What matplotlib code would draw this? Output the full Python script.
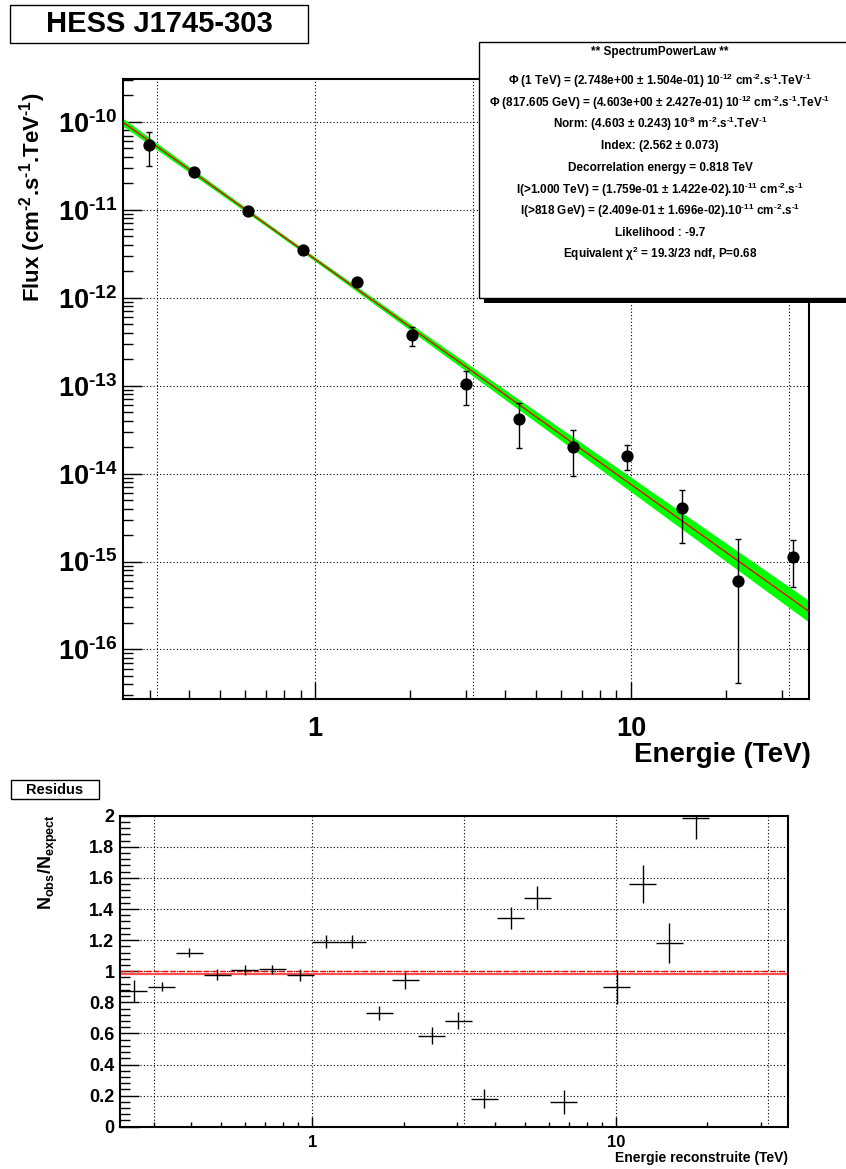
"""HESS J1745-303 spectrum (power-law fit with butterfly) and residuals, ROOT-like look."""
import matplotlib
matplotlib.use("Agg")
import matplotlib.pyplot as plt
import numpy as np
from matplotlib.patches import Rectangle
from matplotlib.ticker import FixedLocator, LogLocator, MultipleLocator, NullFormatter, FuncFormatter

plt.rcParams["font.family"] = ["Liberation Sans", "DejaVu Sans"]
plt.rcParams["font.weight"] = "bold"
plt.rcParams["mathtext.fontset"] = "custom"
plt.rcParams["mathtext.rm"] = "Liberation Sans:bold"
plt.rcParams["mathtext.it"] = "Liberation Sans:bold"
plt.rcParams["mathtext.bf"] = "Liberation Sans:bold"
plt.rcParams["mathtext.default"] = "rm"

# ---- spectral points (TeV, cm-2 s-1 TeV-1) ----
E_FLUX = [0.298, 0.414, 0.614, 0.914, 1.361, 2.023, 3.00, 4.43, 6.56, 9.70, 14.55, 21.9, 32.5]
FLUX = [5.43e-11, 2.72e-11, 9.64e-12, 3.47e-12, 1.50e-12, 3.80e-13, 1.045e-13,
        4.18e-14, 2.02e-14, 1.60e-14, 4.03e-15, 6.05e-16, 1.12e-15]
FLUX_UP = [7.76e-11, 2.85e-11, 1.00e-11, 3.62e-12, 1.60e-12, 4.69e-13, 1.48e-13,
           6.41e-14, 3.13e-14, 2.13e-14, 6.56e-15, 1.82e-15, 1.76e-15]
FLUX_LO = [3.18e-11, 2.59e-11, 9.30e-12, 3.32e-12, 1.40e-12, 2.85e-13, 6.03e-14,
           1.95e-14, 9.40e-15, 1.09e-14, 1.64e-15, 4.11e-17, 5.13e-16]

# ---- power-law fit parameters ----
E_DEC = 0.817605          # TeV
PHI_DEC = 4.603e-12
PHI_DEC_ERR = 0.2427e-12
INDEX = 2.562
INDEX_ERR = 0.073

# ---- residuals N_obs / N_expect ----
E_RES = [0.258, 0.319, 0.394, 0.486, 0.600, 0.738, 0.912, 1.109, 1.355, 1.660, 2.023,
         2.472, 3.027, 3.681, 4.508, 5.508, 6.730, 10.05, 12.27, 14.96, 18.28]
RATIO = [0.873, 0.90, 1.119, 0.976, 1.008, 1.012, 0.976, 1.19, 1.19, 0.733, 0.943,
         0.585, 0.682, 0.18, 1.34, 1.473, 0.16, 0.90, 1.561, 1.181, 1.987]
RATIO_ERR = [0.07, 0.03, 0.03, 0.035, 0.03, 0.03, 0.04, 0.04, 0.04, 0.045, 0.055,
             0.055, 0.055, 0.06, 0.07, 0.075, 0.077, 0.11, 0.12, 0.13, 0.14]
BIN_HALF_DEX = 0.0445
REF_LINE = 1.0
FIT_LINE = 0.982

HY = "\u2010"  # short hyphen for exponents (mathtext would turn '-' into a long minus)
STATS = [
    "** SpectrumPowerLaw **",
    rf"Φ (1 TeV) = (2.748e+00 ± 1.504e-01) 10$^{{{HY}12}}$ cm$^{{{HY}2}}$.s$^{{{HY}1}}$.TeV$^{{{HY}1}}$",
    rf"Φ (817.605 GeV) = (4.603e+00 ± 2.427e-01) 10$^{{{HY}12}}$ cm$^{{{HY}2}}$.s$^{{{HY}1}}$.TeV$^{{{HY}1}}$",
    rf"Norm: (4.603 ± 0.243) 10$^{{{HY}8}}$ m$^{{{HY}2}}$.s$^{{{HY}1}}$.TeV$^{{{HY}1}}$",
    "Index: (2.562 ± 0.073)",
    "Decorrelation energy = 0.818 TeV",
    rf"I(>1.000 TeV) = (1.759e-01 ± 1.422e-02).10$^{{{HY}11}}$ cm$^{{{HY}2}}$.s$^{{{HY}1}}$",
    rf"I(>818 GeV) = (2.409e-01 ± 1.696e-02).10$^{{{HY}11}}$ cm$^{{{HY}2}}$.s$^{{{HY}1}}$",
    "Likelihood : -9.7",
    r"Equivalent χ$^{2}$ = 19.3/23 ndf, P=0.68",
]

W, H = 846, 1169
fig = plt.figure(figsize=(W / 100, H / 100), dpi=100)


def box(x0, y0, x1, y1):
    """pixel box (top-left origin) -> axes rect"""
    return [x0 / W, 1 - y1 / H, (x1 - x0) / W, (y1 - y0) / H]


GRID = dict(color="black", lw=0.8, ls=(0, (1, 2)), zorder=1)

# ================= spectrum =================
ax = fig.add_axes(box(123, 79, 809, 699))
ax.set_xscale("log")
ax.set_yscale("log")
ax.set_xlim(0.2467, 36.63)
ax.set_ylim(2.73e-17, 3.08e-10)

for gx in 10.0 ** np.array([-0.5, 0, 0.5, 1, 1.5]):
    ax.axvline(gx, **GRID)
for gy in 10.0 ** np.arange(-16, -9):
    ax.axhline(gy, **GRID)

e = np.logspace(np.log10(0.2467), np.log10(36.63), 300)
model = PHI_DEC * (e / E_DEC) ** (-INDEX)
sig = np.sqrt((PHI_DEC_ERR / PHI_DEC) ** 2 + (INDEX_ERR * np.log(e / E_DEC)) ** 2)
ax.fill_between(e, model * np.exp(-sig), model * np.exp(sig), color="#00ff00", lw=0, zorder=2)
ax.plot(e, model, color="black", lw=0.6, ls=(0, (1, 1.5)), zorder=3)
ax.plot(e, model, color="red", lw=0.9, zorder=3)

f = np.array(FLUX)
ax.errorbar(E_FLUX, f, yerr=[f - np.array(FLUX_LO), np.array(FLUX_UP) - f], fmt="o",
            color="black", ms=7.8, elinewidth=1, capsize=2.5, capthick=1, zorder=4)

ax.xaxis.set_major_locator(FixedLocator([1, 10]))
ax.xaxis.set_major_formatter(FuncFormatter(lambda v, p: f"{v:g}"))
ax.xaxis.set_minor_locator(LogLocator(base=10, subs=np.arange(2, 10)))
ax.xaxis.set_minor_formatter(NullFormatter())
ax.yaxis.set_major_locator(FixedLocator(10.0 ** np.arange(-17, -9)))
ax.yaxis.set_major_formatter(
    FuncFormatter(lambda v, p: r"$10^{%s%d}$" % (HY, -round(np.log10(v)))))
ax.yaxis.set_minor_locator(LogLocator(base=10, subs=np.arange(2, 10)))
ax.yaxis.set_minor_formatter(NullFormatter())
ax.tick_params(which="both", direction="in", top=False, right=False, width=1)
ax.tick_params(axis="x", which="major", length=12, pad=12, labelsize=19.5)
ax.tick_params(axis="x", which="minor", length=6.5)
ax.tick_params(axis="y", which="major", length=14, pad=4, labelsize=19.5)
ax.tick_params(axis="y", which="minor", length=7)
for s in ax.spines.values():
    s.set_linewidth(1.5)

fig.text(810.7 / W, 1 - 762 / H, "Energie (TeV)", ha="right", va="baseline", fontsize=20)
fig.text(33 / W, 1 - 197 / H,
         rf"Flux (cm$^{{{HY}2}}$.s$^{{{HY}1}}$.TeV$^{{{HY}1}}$)", rotation=90,
         ha="center", va="center", fontsize=16)

# title pave
tax = fig.add_axes([0, 0, 1, 1], facecolor="none")
tax.set_xlim(0, W)
tax.set_ylim(H, 0)
tax.axis("off")
tax.add_patch(Rectangle((10, 5), 298, 38, fc="white", ec="black", lw=1))
tax.text(159, 24, "HESS J1745-303", ha="center", va="center", fontsize=21)

# stats pave with shadow
tax.add_patch(Rectangle((484, 47), 370, 256, fc="black", ec="black", lw=0))
tax.add_patch(Rectangle((478.5, 42), 370, 256, fc="white", ec="black", lw=1))
ys = [52, 81, 103, 124, 146, 168, 190, 211, 233, 254]
for yy, line in zip(ys, STATS):
    tax.text(660, yy, line, ha="center", va="center", fontsize=8.5)

# Residus pave
tax.add_patch(Rectangle((10.7, 780), 88.3, 19.3, fc="white", ec="black", lw=1))
tax.text(54.8, 789.7, "Residus", ha="center", va="center", fontsize=10.5)

# ================= residuals =================
rx = fig.add_axes(box(120, 815.7, 788, 1126.7))
rx.set_xscale("log")
rx.set_xlim(0.2327, 36.85)
rx.set_ylim(0, 2)

for gx in 10.0 ** np.array([-0.52, 0, 0.5, 1, 1.5]):
    rx.axvline(gx, **GRID)
for gy in np.arange(0.2, 1.9, 0.2):
    rx.axhline(gy, **GRID)

rx.axhline(FIT_LINE, color="#ff5050", lw=1.6, zorder=2)
rx.axhline(REF_LINE, color="red", lw=1, ls=(0, (4, 2)), zorder=2)

er = np.array(E_RES)
rx.errorbar(er, RATIO, yerr=RATIO_ERR,
            xerr=[er - er * 10 ** -BIN_HALF_DEX, er * 10 ** BIN_HALF_DEX - er],
            fmt="none", ecolor="black", elinewidth=1, capsize=0, zorder=3)

rx.xaxis.set_major_locator(FixedLocator([1, 10]))
rx.xaxis.set_major_formatter(FuncFormatter(lambda v, p: f"{v:g}"))
rx.xaxis.set_minor_locator(LogLocator(base=10, subs=np.arange(2, 10)))
rx.xaxis.set_minor_formatter(NullFormatter())
rx.yaxis.set_major_locator(MultipleLocator(0.2))
rx.yaxis.set_major_formatter(FuncFormatter(lambda v, p: f"{v:g}"))
rx.yaxis.set_minor_locator(MultipleLocator(0.04))
rx.tick_params(which="both", direction="in", top=False, right=False, width=1)
rx.tick_params(axis="x", which="major", length=7, pad=6, labelsize=12)
rx.tick_params(axis="x", which="minor", length=3.5)
rx.tick_params(axis="y", which="major", length=14, pad=4, labelsize=13)
rx.tick_params(axis="y", which="minor", length=7)
for s in rx.spines.values():
    s.set_linewidth(1.5)

fig.text(788 / W, 1 - 1162 / H, "Energie reconstruite (TeV)", ha="right", va="baseline", fontsize=10)
fig.text(48 / W, 1 - 862 / H, r"N$_{obs}$/N$_{expect}$", rotation=90,
         ha="center", va="center", fontsize=13)

fig.savefig("out.png", dpi=100)
